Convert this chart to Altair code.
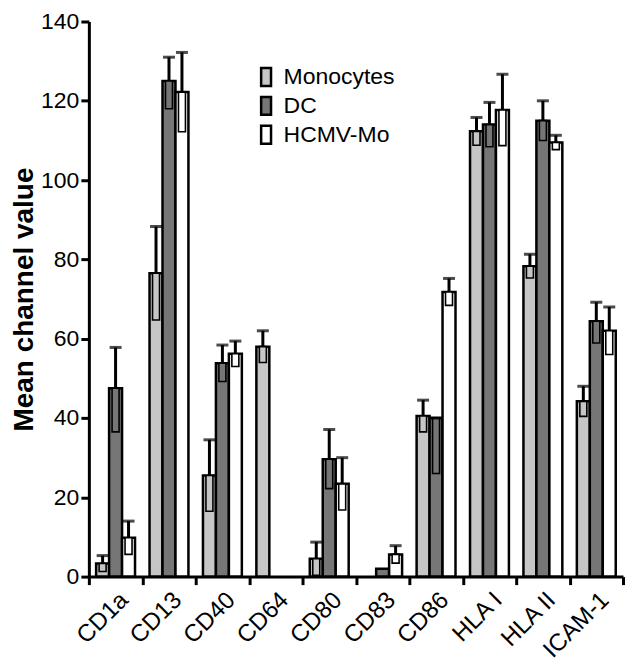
import altair as alt
import pandas as pd

markers = ["CD1a", "CD13", "CD40", "CD64", "CD80", "CD83", "CD86", "HLA I", "HLA II", "ICAM-1"]
series = ["Monocytes", "DC", "HCMV-Mo"]
colors = ["#c6c6c6", "#767676", "#ffffff"]

mono = [3.3, 76.5, 25.5, 58.0, 4.5, None, 40.5, 112.3, 78.3, 44.2]
mono_err = [2.0, 11.8, 9.0, 4.0, 4.2, None, 4.0, 3.5, 3.0, 3.8]
dc = [47.5, 125.0, 53.8, None, 29.6, 2.0, 40.0, 114.0, 115.0, 64.4]
dc_err_low = [11.0, 7.0, 4.6, None, 7.4, None, 14.0, 5.6, 5.0, 5.5]
dc_err_up = [10.3, 6.0, 4.6, None, 7.5, None, 0.0, 5.6, 5.0, 4.8]
hcmv = [9.8, 122.2, 56.2, None, 23.4, 5.6, 71.8, 117.7, 109.5, 62.0]
hcmv_err = [4.2, 10.0, 3.2, None, 6.6, 2.2, 3.4, 9.0, 1.8, 6.0]

rows = []
for i, m in enumerate(markers):
    for s, v, lo_e, hi_e in [
        ("Monocytes", mono[i], mono_err[i], mono_err[i]),
        ("DC", dc[i], dc_err_low[i], dc_err_up[i]),
        ("HCMV-Mo", hcmv[i], hcmv_err[i], hcmv_err[i]),
    ]:
        if v is None:
            continue
        row = {"marker": m, "series": s, "value": v}
        if lo_e is not None:
            row["lo"] = v - lo_e
            row["hi"] = v + hi_e
        rows.append(row)
df = pd.DataFrame(rows)

FONT = "Liberation Sans"

x_enc = alt.X(
    "marker:N",
    sort=markers,
    scale=alt.Scale(paddingInner=0, paddingOuter=0),
    axis=alt.Axis(
        title=None,
        tickBand="extent",
        labelAngle=-45,
        labelAlign="right",
        labelBaseline="top",
        labelPadding=3,
        labelFontSize=24,
    ),
)
xo_enc = alt.XOffset("series:N", sort=series, scale=alt.Scale(paddingOuter=0.56, paddingInner=0))
color_scale = alt.Scale(domain=series, range=colors)

base = alt.Chart(df).encode(x=x_enc, xOffset=xo_enc)

bars = base.mark_bar(stroke="black", strokeWidth=2.5).encode(
    y=alt.Y(
        "value:Q",
        scale=alt.Scale(domain=[0, 140], nice=False),
        axis=alt.Axis(
            values=[0, 20, 40, 60, 80, 100, 120, 140],
            title="Mean channel value",
            titleFontSize=28,
            titleFontWeight="bold",
            titlePadding=2,
            labelFontSize=23,
            grid=False,
        ),
    ),
    color=alt.Color(
        "series:N",
        sort=series,
        scale=color_scale,
        legend=alt.Legend(
            title=None,
            orient="none",
            legendX=166,
            legendY=44,
            symbolType="M-0.55,-1H0.55V1H-0.55Z",
            symbolSize=324,
            symbolStrokeColor="black",
            symbolStrokeWidth=2.5,
            labelFontSize=23,
            labelFont=FONT,
            labelColor="black",
            rowPadding=0,
            labelOffset=6,
        ),
    ),
)

errdf = base.transform_filter("isValid(datum.lo)")

inner = errdf.mark_bar(width=7, stroke="black", strokeWidth=1.6).encode(
    y="lo:Q", y2="value:Q", color=alt.Color("series:N", sort=series, scale=color_scale, legend=None)
)
upper = errdf.mark_rule(strokeWidth=3, color="black").encode(y="value:Q", y2="hi:Q")
cap = errdf.mark_tick(color="black", thickness=3, size=12).encode(y="hi:Q")

chart = (
    alt.layer(bars, inner, upper, cap)
    .properties(width=535, height=556, padding={"left": 2, "top": 2, "right": 0, "bottom": 0})
    .configure_view(stroke=None)
    .configure_axis(
        domainColor="black",
        domainWidth=3,
        tickColor="black",
        tickWidth=3,
        tickSize=8,
        labelColor="black",
        titleColor="black",
        labelFont=FONT,
        titleFont=FONT,
    )
)

chart.save("out.html", embed_options={"renderer": "svg", "actions": False})
